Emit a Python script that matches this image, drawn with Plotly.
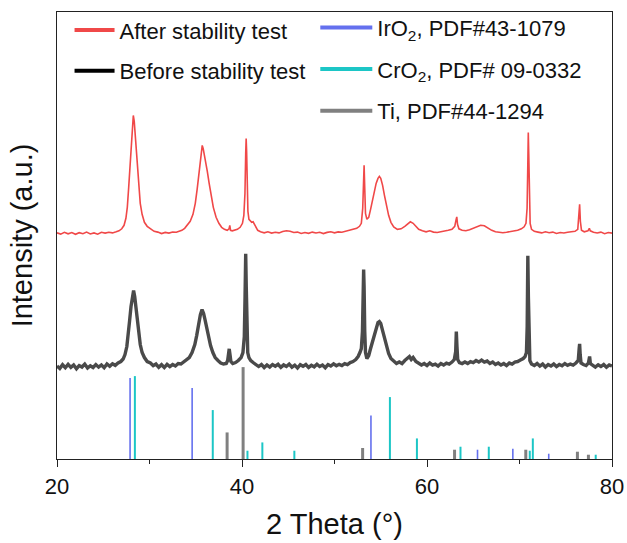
import plotly.graph_objects as go

# ---------------- data ----------------
two_theta_after = [
    20.0, 20.4, 20.8, 21.2, 21.6, 22.0, 22.4, 22.8, 23.2, 23.6, 24.0, 24.4, 24.8, 25.2, 25.6, 26.0, 26.4, 26.7,
    27.0, 27.25, 27.45, 27.6, 27.75, 27.9, 28.05, 28.15, 28.25, 28.35, 28.45, 28.55, 28.7, 28.85, 29.0, 29.2,
    29.45, 29.75, 30.1, 30.5, 30.9, 31.3, 31.7, 32.1, 32.5, 32.9, 33.2, 33.5, 33.8, 34.1, 34.4, 34.7, 34.95,
    35.15, 35.3, 35.45, 35.6, 35.7, 35.8, 35.95, 36.1, 36.25, 36.45, 36.65, 36.9, 37.2, 37.5, 37.8, 38.1, 38.4,
    38.6, 38.68, 38.76, 38.95, 39.2, 39.5, 39.8, 40.05, 40.2, 40.32, 40.4, 40.45, 40.5, 40.56, 40.64, 40.75,
    40.9, 41.05, 41.2, 41.35, 41.5, 41.7, 42.0, 42.4, 42.8, 43.2, 43.6, 44.0, 44.4, 44.8, 45.2, 45.6, 46.0,
    46.4, 46.8, 47.2, 47.6, 48.0, 48.4, 48.8, 49.2, 49.6, 50.0, 50.4, 50.8, 51.2, 51.6, 52.0, 52.4, 52.7, 52.9,
    53.05, 53.15, 53.2, 53.27, 53.35, 53.5, 53.7, 53.9, 54.1, 54.3, 54.5, 54.7, 54.85, 55.0, 55.2, 55.4, 55.6,
    55.85, 56.1, 56.4, 56.8, 57.2, 57.6, 57.9, 58.2, 58.5, 58.8, 59.1, 59.5, 59.9, 60.3, 60.7, 61.1, 61.5,
    61.9, 62.3, 62.7, 63.0, 63.15, 63.22, 63.3, 63.45, 63.8, 64.2, 64.6, 65.0, 65.4, 65.8, 66.2, 66.6, 67.0,
    67.4, 67.8, 68.2, 68.6, 69.0, 69.4, 69.8, 70.2, 70.5, 70.7, 70.82, 70.9, 70.95, 71.0, 71.07, 71.15, 71.3,
    71.6, 72.0, 72.4, 72.8, 73.2, 73.6, 74.0, 74.4, 74.8, 75.2, 75.6, 76.0, 76.3, 76.42, 76.5, 76.58, 76.7,
    77.0, 77.4, 77.55, 77.65, 78.0, 78.4, 78.8, 79.2, 79.6, 80.0,
]
intensity_after = [
    0.5, -0.8, 1.0, -0.5, 0.8, -1.0, 0.6, -0.4, 1.2, -0.6, 0.4, -0.9, 1.0, 0.2, 1.1, 0.4, 1.5, 2.5,
    4.5, 8.0, 15, 26, 46, 68, 92, 108, 118, 112, 100, 86, 64, 44, 30, 19,
    11, 7, 4.5, 2.0, 1.2, -0.3, 0.9, 0.2, 1.3, 1.0, 2.0, 3.0, 5.0, 8, 12, 19, 30,
    44, 58, 72, 84, 88, 85, 78, 72, 62, 50, 38, 26, 16, 10, 6, 4, 3,
    4.5, 8, 3, 2.5, 3, 4, 6, 10, 18, 40, 80, 95, 82, 45, 22, 14,
    12, 11, 11.5, 9, 5, 3, 1.5, 0.5, 1.5, 0.2, 1.0, 0.4, 1.8, 2.5, 2.0, 0.8, 1.2,
    -0.2, 0.8, 0.0, 1.2, 0.3, 1.0, -0.3, 0.9, 1.5, 0.5, 1.4, 1.0, 2.0, 2.5, 3.5, 5.0, 7, 10,
    25, 60, 68, 45, 20, 14, 16, 24, 33, 42, 50, 55, 57, 55, 48, 38, 28,
    18, 11, 6.5, 4, 4.5, 7, 9.5, 11.5, 10, 6.5, 4, 2.5, 1.5, 2.5, 1.2, 0.8, 1.4,
    2.2, 3.0, 4.0, 7, 14, 16.5, 9, 4.5, 3, 2.5, 3.5, 5, 7, 8, 7.5, 5, 3,
    1.5, 1.0, 0.5, 1.0, 1.5, 2.0, 3.0, 4.5, 6.5, 10, 25, 70, 101, 80, 30, 10, 4,
    2, 1.2, 0.4, 1.5, 0.6, 1.2, -0.2, 0.8, 0.3, 1.0, 1.6, 2.0, 4.0, 15, 29, 12, 3,
    1.5, 2.5, 5, 2.5, 1.0, 0.3, 1.2, -0.4, 0.8, 0.2,
]

two_theta_before = [
    20.0, 20.3, 20.6, 20.9, 21.2, 21.5, 21.8, 22.1, 22.4, 22.7, 23.0, 23.3, 23.6, 23.9, 24.2, 24.5, 24.8, 25.1,
    25.4, 25.7, 26.0, 26.3, 26.6, 26.9, 27.15, 27.35, 27.55, 27.7, 27.85, 28.0, 28.15, 28.28, 28.4, 28.5,
    28.65, 28.8, 29.0, 29.2, 29.45, 29.75, 30.1, 30.4, 30.7, 31.0, 31.3, 31.6, 31.9, 32.2, 32.5, 32.8, 33.1,
    33.4, 33.7, 34.0, 34.3, 34.6, 34.9, 35.1, 35.3, 35.5, 35.68, 35.85, 36.0, 36.2, 36.4, 36.6, 36.85, 37.1,
    37.4, 37.7, 38.0, 38.3, 38.45, 38.55, 38.62, 38.7, 38.8, 39.0, 39.3, 39.6, 39.9, 40.1, 40.25, 40.33, 40.4,
    40.46, 40.53, 40.62, 40.75, 40.95, 41.2, 41.5, 41.8, 42.1, 42.4, 42.7, 43.0, 43.3, 43.6, 43.9, 44.2, 44.5,
    44.8, 45.1, 45.4, 45.7, 46.0, 46.3, 46.6, 46.9, 47.2, 47.5, 47.8, 48.1, 48.4, 48.7, 49.0, 49.3, 49.6,
    49.9, 50.2, 50.5, 50.8, 51.1, 51.4, 51.7, 52.0, 52.3, 52.55, 52.75, 52.9, 53.02, 53.1, 53.15, 53.2, 53.27,
    53.35, 53.5, 53.7, 53.9, 54.1, 54.3, 54.5, 54.7, 54.85, 55.0, 55.2, 55.4, 55.6, 55.85, 56.1, 56.4, 56.7,
    57.0, 57.3, 57.6, 57.9, 58.1, 58.3, 58.5, 58.8, 59.1, 59.4, 59.7, 60.0, 60.3, 60.6, 60.9, 61.2, 61.5,
    61.8, 62.1, 62.4, 62.7, 62.95, 63.1, 63.17, 63.24, 63.32, 63.5, 63.8, 64.1, 64.4, 64.7, 65.0, 65.3, 65.6,
    65.9, 66.2, 66.5, 66.8, 67.1, 67.4, 67.7, 68.0, 68.3, 68.6, 68.9, 69.2, 69.5, 69.8, 70.1, 70.4, 70.6,
    70.75, 70.83, 70.9, 70.96, 71.03, 71.12, 71.3, 71.6, 71.9, 72.2, 72.5, 72.8, 73.1, 73.4, 73.7, 74.0, 74.3,
    74.6, 74.9, 75.2, 75.5, 75.8, 76.1, 76.35, 76.45, 76.5, 76.56, 76.65, 76.9, 77.2, 77.45, 77.58, 77.66,
    77.9, 78.2, 78.5, 78.8, 79.1, 79.4, 79.7, 80.0,
]
intensity_before = [
    0.5, -2.0, 1.8, -1.2, 2.2, -0.8, 1.5, -2.2, 1.0, -0.5, 2.4, -1.5, 0.8, -1.0, 2.0, -0.6, 1.6, -1.2,
    2.5, 0.2, 2.8, 1.2, 3.5, 5.0, 7.5, 12, 20, 30, 46, 60, 71, 76, 70, 62,
    48, 34, 22, 14, 9, 5, 3.5, 0.8, 2.5, -0.8, 1.8, -1.0, 2.2, 0.0, 2.0, 0.5, 3.0,
    2.5, 4.5, 6, 9, 14, 22, 31, 42, 52, 57, 53, 47, 38, 29, 21, 14, 9,
    6, 3.5, 2.5, 3.0, 6, 14, 17.7, 12, 5, 3, 4, 6, 9, 14, 30, 70, 113,
    80, 30, 14, 9, 6, 4, 2, 0.0, 2.0, -1.0, 1.5, -0.5, 2.0, 0.3, 2.2, -0.8, 1.6,
    0.0, 2.5, -0.6, 1.4, -1.5, 1.8, 0.2, 2.0, -0.9, 1.2, -0.3, 2.3, 0.0, 1.5, -1.2, 2.0, 0.5,
    2.6, 0.8, 2.2, 1.0, 3.0, 2.0, 4.0, 5.0, 7, 10, 14, 18, 35, 75, 97, 80, 35,
    14, 8, 11, 18, 25, 33, 40, 44, 45, 43, 36, 28, 20, 13, 8, 5, 3,
    4.5, 3.0, 6, 8, 10, 7, 9, 5, 3, 1.5, 3.0, 1.0, 3.5, 1.5, 2.5, 0.5, 3.0,
    1.5, 3.5, 2.5, 4.5, 7, 15, 35, 20, 7, 4, 3, 4.5, 3.0, 5.0, 4.0, 6.0, 4.5,
    6.5, 4.5, 5.5, 3.0, 4.5, 2.0, 3.5, 1.5, 3.0, 1.0, 3.5, 2.5, 4.5, 5.0, 6.5, 8, 10,
    14, 40, 111, 70, 20, 6, 2.5, 1.0, 3.0, 0.5, 2.5, -0.5, 2.0, 0.5, 2.5, 0.0, 2.0,
    0.8, 3.0, 1.2, 2.5, 1.5, 3.5, 6, 18, 22.7, 12, 3.5, 2.0, 1.0, 3.5, 10, 3.0,
    1.5, -0.5, 1.8, 0.0, 2.0, -0.8, 1.5, 0.5,
]

# reference patterns (position in 2θ, relative height)
iro2_pos = [27.9, 34.61, 53.94, 65.46, 69.28, 73.16]
iro2_int = [81, 71, 43.6, 9.3, 10.3, 5.3]
cro2_pos = [28.42, 36.84, 40.59, 42.2, 45.66, 55.99, 58.91, 63.62, 66.68, 71.11, 71.44, 78.24]
cro2_int = [83, 49, 8.3, 16.6, 8.3, 62, 20.6, 12.3, 12.3, 8.3, 20.6, 4.3]
ti_pos = [38.39, 40.12, 53.04, 62.98, 70.68, 76.26, 77.45]
ti_int = [26.6, 92, 11, 9.3, 9.3, 7.3, 4.3]

x_ticks = [20, 40, 60, 80]
after_offset = 226
before_offset = 92.6

# ---------------- figure ----------------
FONT = "Liberation Sans, Arial, Helvetica, sans-serif"
RED = "#F04848"
DARK = "#4A4A4A"
BLUE = "#6470EE"
CYAN = "#1CC6C6"
GREY = "#808080"


def sticks(pos, inten):
    xs, ys = [], []
    for p, h in zip(pos, inten):
        xs += [p, p, None]
        ys += [0, h, None]
    return xs, ys


fig = go.Figure()

fig.add_trace(go.Scatter(x=two_theta_before, y=[v + before_offset for v in intensity_before],
                         mode="lines", line=dict(color=DARK, width=3.4), showlegend=False))
fig.add_trace(go.Scatter(x=two_theta_after, y=[v + after_offset for v in intensity_after],
                         mode="lines", line=dict(color=RED, width=1.6), showlegend=False))

for pos, inten, col, w in [(ti_pos, ti_int, GREY, 3), (iro2_pos, iro2_int, BLUE, 1.6), (cro2_pos, cro2_int, CYAN, 2)]:
    xs, ys = sticks(pos, inten)
    fig.add_trace(go.Scatter(x=xs, y=ys, mode="lines", line=dict(color=col, width=w), showlegend=False))

# legend entries
leg1 = [("After stability test", RED), ("Before stability test", "#000000")]
leg2 = [("IrO<sub>2</sub>, PDF#43-1079", BLUE), ("CrO<sub>2</sub>, PDF# 09-0332", CYAN),
        ("Ti, PDF#44-1294", GREY)]
for i, (name, col) in enumerate(leg1):
    fig.add_trace(go.Scatter(x=[None], y=[None], mode="lines", name=name, legend="legend",
                             legendgroup="a%d" % i, line=dict(color=col, width=4)))
for i, (name, col) in enumerate(leg2):
    fig.add_trace(go.Scatter(x=[None], y=[None], mode="lines", name=name, legend="legend2",
                             legendgroup="b%d" % i, line=dict(color=col, width=4)))

axis_common = dict(showline=True, linecolor="#222222", linewidth=1.3, mirror=True,
                   showgrid=False, zeroline=False, automargin=False)

fig.update_layout(
    width=627, height=543,
    margin=dict(l=57, r=15, t=12, b=84, autoexpand=False),
    plot_bgcolor="white", paper_bgcolor="white",
    font=dict(family=FONT, color="#111111", size=22),
    xaxis=dict(range=[20, 80], tickvals=x_ticks, ticks="outside", ticklen=7, tickwidth=1.3,
               tickcolor="#222222", tickfont=dict(size=22),
               minor=dict(tickvals=[30, 50, 70], ticks="outside", ticklen=4, tickwidth=1.3,
                          tickcolor="#222222"),
               title=dict(text="2 Theta (°)", font=dict(size=29), standoff=16),
               **axis_common),
    yaxis=dict(range=[0, 447.6], showticklabels=False, ticks="",
               title=dict(text="Intensity (a.u.)", font=dict(size=29), standoff=14),
               **axis_common),
    legend=dict(x=0.0226, y=1.006, xanchor="left", yanchor="top", bgcolor="rgba(0,0,0,0)",
                font=dict(size=22, family=FONT), tracegroupgap=9, itemwidth=40),
    legend2=dict(x=0.4654, y=1.012, xanchor="left", yanchor="top", bgcolor="rgba(0,0,0,0)",
                 font=dict(size=22, family=FONT), tracegroupgap=10, itemwidth=52),
)

fig.write_html("out.html", config={"displayModeBar": False},
               post_script="document.body.style.margin='0px';document.body.style.padding='0px';")
